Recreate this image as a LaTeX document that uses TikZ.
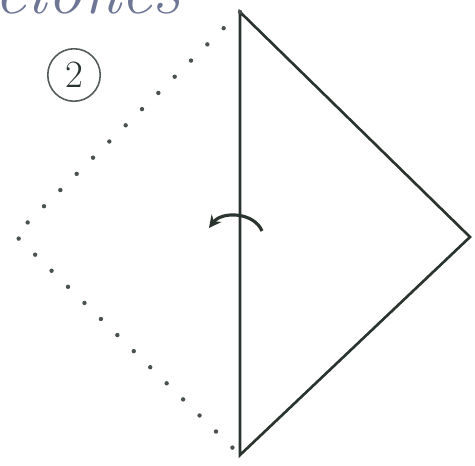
\documentclass[tikz,border=0pt]{standalone}
\usepackage{xcolor}
\usepackage{tikz}
\definecolor{foldgray}{RGB}{42,52,46}
\definecolor{inkblue}{RGB}{110,118,150}
\usetikzlibrary{arrows.meta,calc}

\begin{document}
\begin{tikzpicture}[
    x=0.02cm, y=-0.02cm,
    edge/.style={draw=foldgray, line width=1.5pt, line join=miter},
    dotline/.style={draw=foldgray!85, line width=2.5pt, line cap=round, dash pattern=on 0pt off 0.46cm},
    foldarrow/.style={draw=foldgray, line width=1.8pt, -{Stealth[length=7pt, width=7pt]}},
    stepnum/.style={circle, draw=foldgray!80, line width=0.9pt, minimum size=1.05cm, inner sep=0pt, font=\fontsize{22}{22}\selectfont, text=foldgray}
]
\useasboundingbox (0,0) rectangle (475,465);

% corners of the folded triangle
\coordinate (top) at (240,12);
\coordinate (bottom) at (240,455);
\coordinate (right) at (470,237);
\coordinate (left) at (15,235);

% clipped handwriting at the top edge
\begin{scope}
  \clip (0,0) rectangle (475,465);
  \node[anchor=base west, inner sep=0pt, text=inkblue, font=\fontsize{40}{40}\selectfont\itshape] (word) at (-6,14) {ciones};
\end{scope}

% step number
\node[stepnum] (num) at (74,75) {2};

% folded half
\draw[edge] (top) -- (right) -- (bottom) -- cycle;

% hidden half before the fold
\draw[dotline] (top) -- (left) -- (bottom);

% turn over arrow
\coordinate (arrowstart) at (262,231);
\coordinate (arrowend) at (209,228);
\draw[foldarrow] (arrowstart) .. controls (254,212) and (222,211) .. (arrowend);

\end{tikzpicture}
\end{document}
